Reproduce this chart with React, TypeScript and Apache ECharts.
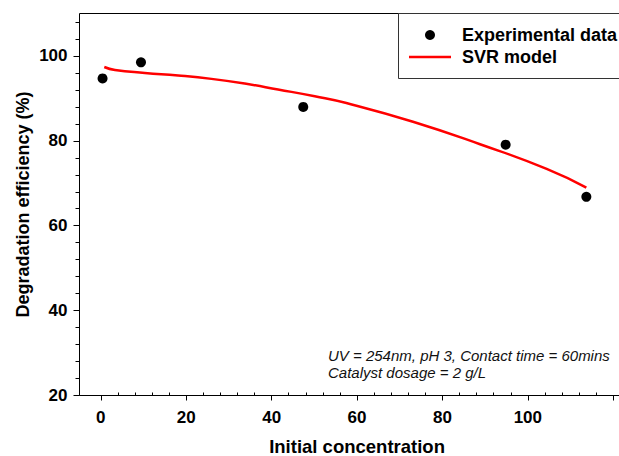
import React, { useEffect, useRef } from "react";
import * as echarts from "echarts";

// ---- data ----
const expX = [0.4, 9.4, 47.4, 94.8, 113.7];
const expY = [94.7, 98.5, 88.0, 79.1, 66.8];

const svrX = [0.8, 3.3, 10.3, 18.1, 25.9, 33.7, 41.5, 50.1, 57.5, 73.1, 88.8, 104.4, 113.7];
const svrY = [97.4, 96.7, 96.0, 95.4, 94.6, 93.5, 92.1, 90.5, 88.9, 84.5, 79.2, 73.4, 69.0];

const xTickLabels = [0, 20, 40, 60, 80, 100, 120];
const yTickLabels = [20, 40, 60, 80, 100];

const legendNames = ["Experimental data", "SVR model"];
const noteLines = ["UV = 254nm, pH 3, Contact time = 60mins", "Catalyst dosage = 2 g/L"];
const xTitle = "Initial concentration";
const yTitle = "Degradation efficiency (%)";

// ---- layout ----
const X0 = 100.85; // pixel of x = 0
const PX = 4.27; // px per x unit
const Y20 = 395.5; // pixel of y = 20
const PY = 4.2444; // px per y unit
const gx = (v: number) => X0 + v * PX;
const gy = (v: number) => Y20 - (v - 20) * PY;
const AXIS_X = gx(-5);
const FONT = "'Liberation Sans', Arial, sans-serif";

export default function App() {
  const ref = useRef<HTMLDivElement>(null);
  useEffect(() => {
    if (!ref.current) return;
    const chart = echarts.init(ref.current, null, { renderer: "svg" });
    const labelStyle = { color: "#000", fontFamily: FONT, fontWeight: "bold" as const, fontSize: 17 };
    const xMin = xTickLabels[0];
    const xMax = xTickLabels[xTickLabels.length - 1];
    const yMin = yTickLabels[0];
    const yMax = yTickLabels[yTickLabels.length - 1];
    const noZero = { show: false, onZero: false };
    chart.setOption({
      animation: false,
      backgroundColor: "#fff",
      grid: [
        {
          left: AXIS_X, top: gy(110), width: 131 * PX, height: 90 * PY,
          show: true, borderColor: "#000", borderWidth: 1, backgroundColor: "transparent",
          containLabel: false, outerBoundsMode: "none",
        },
        {
          left: gx(0), top: gy(108), width: 120 * PX, height: 88 * PY,
          containLabel: false, outerBoundsMode: "none",
        },
        {
          left: gx(0), top: gy(100), width: 120 * PX, height: 80 * PY,
          containLabel: false, outerBoundsMode: "none",
        },
      ],
      xAxis: [
        { type: "value", gridIndex: 0, min: -5, max: 126, show: false },
        {
          type: "value", gridIndex: 1, min: xMin, max: xMax, interval: 20,
          axisLine: noZero,
          axisTick: { show: true, length: 5, lineStyle: { color: "#000", width: 1 } },
          minorTick: { show: true, splitNumber: 5, length: -3, lineStyle: { color: "#000", width: 1 } },
          splitLine: { show: false },
          axisLabel: { ...labelStyle, margin: 13, showMaxLabel: false },
          name: xTitle, nameLocation: "middle", nameGap: 42,
          nameTextStyle: { ...labelStyle, fontSize: 18.5, lineHeight: 18 },
        },
        { type: "value", gridIndex: 2, min: xMin, max: xMax, show: false },
      ],
      yAxis: [
        {
          type: "value", gridIndex: 0, min: 20, max: 110, show: true,
          axisLine: noZero, axisTick: { show: false }, axisLabel: { show: false },
          splitLine: { show: false },
          name: yTitle, nameLocation: "middle", nameGap: 48,
          nameTextStyle: { ...labelStyle, fontSize: 18 },
        },
        {
          type: "value", gridIndex: 1, min: yMin, max: 108, interval: 4,
          offset: gx(0) - AXIS_X,
          axisLine: noZero,
          axisTick: { show: true, length: 4, lineStyle: { color: "#000", width: 1 } },
          axisLabel: { show: false },
          splitLine: { show: false },
        },
        {
          type: "value", gridIndex: 2, min: yMin, max: yMax, interval: 20,
          offset: gx(0) - AXIS_X,
          axisLine: noZero,
          axisTick: { show: true, length: 6, lineStyle: { color: "#000", width: 1 } },
          splitLine: { show: false },
          axisLabel: { ...labelStyle, margin: 12 },
        },
      ],
      legend: {
        data: [
          { name: legendNames[0], icon: "circle" },
          { name: legendNames[1], icon: "path://M0,0 L42,0 L42,2.5 L0,2.5 Z" },
        ],
        orient: "vertical",
        left: 409,
        top: 25,
        padding: 0,
        itemWidth: 42,
        itemHeight: 10,
        itemGap: 2,
        z: 10,
        textStyle: { ...labelStyle, fontSize: 18, lineHeight: 20, padding: [0, 0, 0, 6] },
      },
      graphic: [
        {
          type: "rect", z: 5,
          shape: { x: 398.5, y: 13.5, width: 260, height: 65 },
          style: { fill: "#fff", stroke: "#333", lineWidth: 1 },
        },
        ...noteLines.map((t, i) => ({
          type: "text", z: 5,
          x: 328, y: 355 + i * 17,
          style: {
            text: t, fill: "#111", fontFamily: FONT, fontStyle: "italic", fontSize: 15,
            verticalAlign: "middle", align: "left",
          },
        })),
      ],
      series: [
        {
          name: legendNames[1], type: "line", xAxisIndex: 0, yAxisIndex: 0,
          data: svrX.map((x, i) => [x, svrY[i]]),
          smooth: 0.5, symbol: "none", showSymbol: false,
          lineStyle: { color: "#ff0000", width: 2.5 },
          itemStyle: { color: "#ff0000" },
          z: 2,
        },
        {
          name: legendNames[0], type: "scatter", xAxisIndex: 0, yAxisIndex: 0,
          data: expX.map((x, i) => [x, expY[i]]),
          symbol: "circle", symbolSize: 10,
          itemStyle: { color: "#000", opacity: 1 },
          z: 3,
        },
      ],
    });
    return () => chart.dispose();
  }, []);
  return (
    <div
      ref={ref}
      style={{ position: "fixed", left: 0, top: 0, width: 619, height: 456 }}
    />
  );
}
